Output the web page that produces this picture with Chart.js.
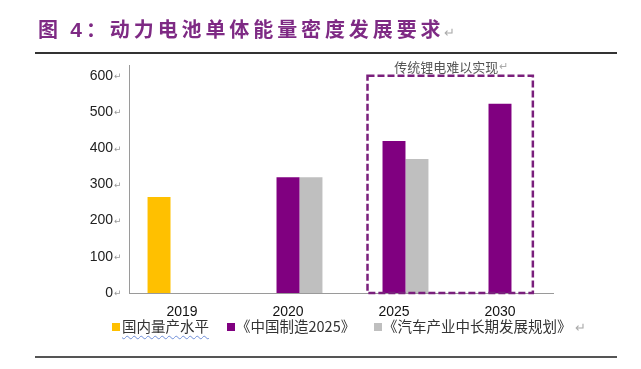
<!DOCTYPE html>
<html>
<head>
<meta charset="utf-8">
<script src="https://cdn.jsdelivr.net/npm/chart.js@4/dist/chart.umd.min.js"></script>
<style>
  html,body{margin:0;padding:0;background:#fff;}
  #wrap{position:relative;width:641px;height:369px;overflow:hidden;}
  #c{position:absolute;left:0;top:0;}
  #title{position:absolute;left:38px;top:14px;font-family:"Noto Sans CJK SC";font-weight:700;font-size:20px;letter-spacing:3.9px;color:#7e2a84;white-space:nowrap;}
  #title .num{font-family:"Liberation Sans";font-weight:700;font-size:21px;}
  .ret{color:#aaa;font-weight:400;font-size:13px;letter-spacing:0;}
  #rule1{position:absolute;left:35px;top:52px;width:582px;height:2px;background:#333;}
  #rule2{position:absolute;left:35px;top:356px;width:582px;height:2px;background:#555;}
  #legend{position:absolute;left:0;top:316px;width:641px;height:20px;font-family:"Noto Sans CJK SC";font-size:14.5px;color:#333;}
  .li{position:absolute;top:0;white-space:nowrap;line-height:20px;}
  .box{position:absolute;top:7px;width:8px;height:8px;}
  .wavy{text-decoration:underline wavy #6f8fd8;text-decoration-thickness:1px;text-underline-offset:3px;}
</style>
</head>
<body>
<div id="wrap">
  <canvas id="c" width="641" height="369"></canvas>
  <div id="title">图 <span class="num">4</span>：动力电池单体能量密度发展要求<span class="ret">↵</span></div>
  <div id="rule1"></div>
  <div id="rule2"></div>
  <div id="legend"></div>
</div>
<script>
// ---- data ----
const categories = ['2019', '2020', '2025', '2030'];
const seriesNames = ['国内量产水平', '《中国制造2025》', '《汽车产业中长期发展规划》'];
const domesticLevel = [265, null, null, null];
const madeInChina2025 = [null, 320, 420, 523];
const autoIndustryPlan = [null, 320, 370, null];
const yTickValues = [0, 100, 200, 300, 400, 500, 600];
const noteText = '传统锂电难以实现';

const colors = ['#ffc000', '#800080', '#bfbfbf'];

// legend (HTML)
const legend = document.getElementById('legend');
const legendPos = [{box:112, text:122}, {box:227, text:236}, {box:374, text:383}];
seriesNames.forEach((name, i) => {
  const b = document.createElement('div');
  b.className = 'box';
  b.style.left = legendPos[i].box + 'px';
  b.style.background = colors[i];
  legend.appendChild(b);
  const t = document.createElement('div');
  t.className = 'li';
  t.style.left = legendPos[i].text + 'px';
  if (i === 0) t.innerHTML = '<span class="wavy">' + name + '</span>';
  else t.textContent = name;
  if (i === 2) t.innerHTML += ' <span class="ret">↵</span>';
  legend.appendChild(t);
});

const boxPlugin = {
  id: 'noteBox',
  afterDatasetsDraw(chart) {
    const xs = chart.scales.x, ys = chart.scales.y, ctx = chart.ctx;
    const cw = xs.getPixelForValue(1) - xs.getPixelForValue(0);
    const x0 = xs.getPixelForValue(2) - 0.25 * cw;
    const x1 = xs.getPixelForValue(3) + 0.31 * cw;
    const y0 = ys.getPixelForValue(600);
    const y1 = ys.getPixelForValue(0);
    ctx.save();
    ctx.strokeStyle = '#7a1f7c';
    ctx.lineWidth = 2.5;
    ctx.setLineDash([7, 3]);
    ctx.strokeRect(x0, y0, x1 - x0, y1 - y0);
    ctx.setLineDash([]);
    ctx.fillStyle = '#555';
    ctx.font = '13px "Noto Sans CJK SC"';
    ctx.textAlign = 'center';
    ctx.textBaseline = 'middle';
    const cx = (x0 + x1) / 2;
    ctx.fillText(noteText, cx - 4, y0 - 9);
    const w = ctx.measureText(noteText).width;
    ctx.fillStyle = '#aaa';
    ctx.font = '11px "DejaVu Sans"';
    ctx.textAlign = 'left';
    ctx.fillText('↵', cx - 4 + w / 2 + 1, y0 - 9);
    // paragraph marks after y tick labels
    ctx.font = '9px "DejaVu Sans"';
    ctx.fillStyle = '#999';
    ys.ticks.forEach(t => {
      ctx.fillText('↵', ys.right - 15, ys.getPixelForValue(t.value) + 1);
    });
    ctx.restore();
  }
};

new Chart(document.getElementById('c'), {
  type: 'bar',
  data: {
    labels: categories,
    datasets: [
      { label: seriesNames[0], data: domesticLevel, backgroundColor: colors[0] },
      { label: seriesNames[1], data: madeInChina2025, backgroundColor: colors[1] },
      { label: seriesNames[2], data: autoIndustryPlan, backgroundColor: colors[2] }
    ]
  },
  options: {
    responsive: false,
    animation: false,
    devicePixelRatio: 1,
    layout: { padding: { left: 0, right: 88, top: 65, bottom: 0 } },
    datasets: { bar: { categoryPercentage: 0.65, barPercentage: 1.0 } },
    plugins: { legend: { display: false }, tooltip: { enabled: false } },
    scales: {
      x: {
        grid: { display: false, drawTicks: false },
        border: { color: '#9a9a9a', width: 1 },
        ticks: { font: { family: 'Liberation Sans', size: 14 }, color: '#111', padding: 11 },
        afterFit(s) { s.height = 76; }
      },
      y: {
        min: 0, max: 630,
        afterBuildTicks(s) { s.ticks = yTickValues.map(v => ({ value: v })); },
        grid: { display: false, drawTicks: false },
        border: { color: '#9a9a9a', width: 1 },
        ticks: { font: { family: 'Liberation Sans', size: 14 }, color: '#222', padding: 16 },
        afterFit(s) { s.width = 129; }
      }
    }
  },
  plugins: [boxPlugin]
});
</script>
</body>
</html>
